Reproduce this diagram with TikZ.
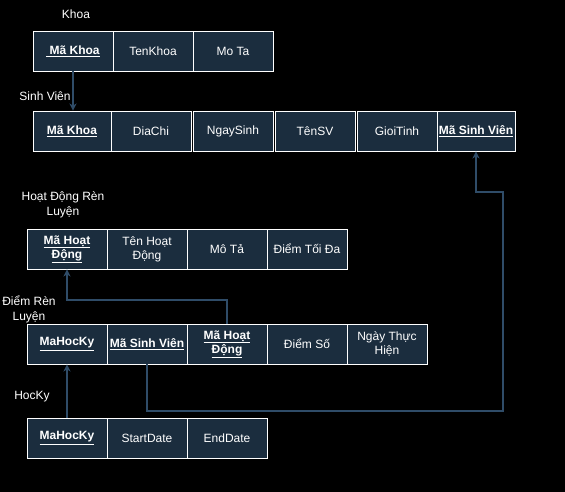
\documentclass[tikz,border=0pt]{standalone}
\usepackage{fontspec}
\setmainfont{Liberation Sans}
\usetikzlibrary{arrows.meta}
\definecolor{cellfill}{HTML}{1B2D3E}
\definecolor{linkcol}{HTML}{2F4C68}
\tikzset{
  cell/.style={draw=white, line width=0.9pt, fill=cellfill, text=white, minimum width=80pt, minimum height=40pt, inner sep=1pt, align=center, font=\fontsize{12}{14}\selectfont},
  keycell/.style={cell, font=\fontsize{12}{14}\selectfont\bfseries},
  title/.style={text=white, align=center, font=\fontsize{12}{15}\selectfont, inner sep=0pt},
  link/.style={draw=linkcol, line width=1.2pt},
  linkarrow/.style={link, -{Stealth[length=7pt,width=7pt,inset=2pt]}}
}
\begin{document}
\begin{tikzpicture}[x=1pt,y=-1pt]
\fill[black] (0,0) rectangle (565,492);
\useasboundingbox (0,0) rectangle (565,492);

% Khoa
\node[title] (tkhoa) at (76,14) {Khoa};
\node[keycell] (k1) at (73,51) {\underline{\ Mã Khoa}};
\node[cell] (k2) at (153,51) {TenKhoa};
\node[cell] (k3) at (233,51) {Mo Ta};

% Sinh Vien
\node[title] (tsv) at (45,96) {Sinh Viên};
\node[keycell, minimum width=78pt] (sv1) at (72,131) {\underline{Mã Khoa}};
\node[cell] (sv2) at (151,131) {DiaChi};
\node[cell] (sv3) at (233,131) {NgaySinh};
\node[cell] (sv4) at (315,131) {TênSV};
\node[cell] (sv5) at (397,131) {GioiTinh};
\node[keycell, minimum width=78pt] (sv6) at (476,131) {\underline{Mã Sinh Viên}};

% Hoat Dong Ren Luyen
\node[title] (thd) at (63,205) {Hoạt Động Rèn\\Luyện};
\node[keycell] (hd1) at (67,249) {\underline{Mã Hoạt}\\\underline{Động}};
\node[cell] (hd2) at (147,249) {Tên Hoạt\\Động};
\node[cell] (hd3) at (227,249) {Mô Tả};
\node[cell] (hd4) at (307,249) {Điểm Tối Đa};

% Diem Ren Luyen
\node[title] (tdrl) at (29,309) {Điểm Rèn\\Luyện};
\node[keycell] (drl1) at (67,344) {\underline{MaHocKy}};
\node[keycell] (drl2) at (147,344) {\underline{Mã Sinh Viên}};
\node[keycell] (drl3) at (227,344) {\underline{Mã Hoạt}\\\underline{Động}};
\node[cell] (drl4) at (307,344) {Điểm Số};
\node[cell] (drl5) at (387,344) {Ngày Thực\\Hiện};

% HocKy
\node[title] (thk) at (32,397) {HocKy};
\node[keycell] (hk1) at (67,438) {\underline{MaHocKy}};
\node[cell] (hk2) at (147,438) {StartDate};
\node[cell] (hk3) at (227,438) {EndDate};

% connectors
\coordinate (c1) at (67,300);
\coordinate (c2) at (503,411);
\coordinate (c3) at (476,192);
\draw[linkarrow] (k1.south) -- (k1.south |- sv1.north);
\draw[linkarrow] (hk1.north) -- (drl1.south);
\draw[linkarrow] (drl3.north) |- (c1) -- (hd1.south);
\draw[linkarrow] (drl2.south) |- (c2) |- (c3) -- (sv6.south);
\end{tikzpicture}
\end{document}
